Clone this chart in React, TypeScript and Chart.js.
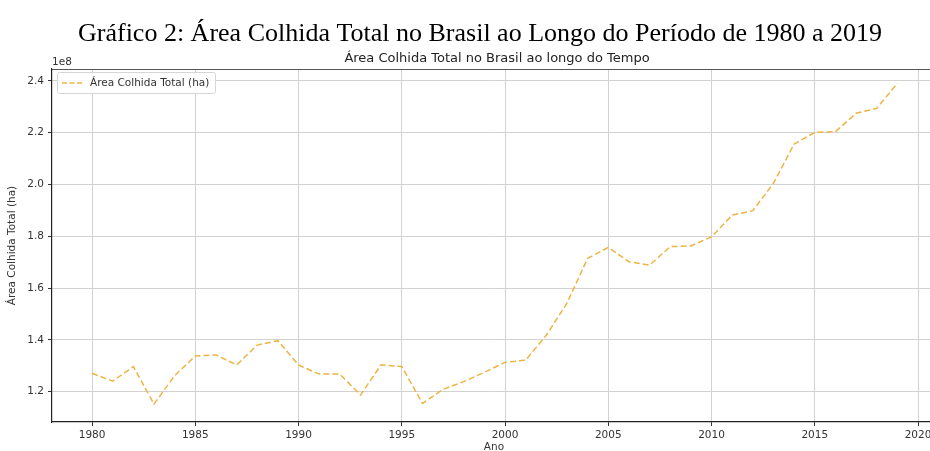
import React, { useEffect, useRef } from "react";
import { Chart, registerables } from "chart.js";

Chart.register(...registerables);

const years = [
  1980, 1981, 1982, 1983, 1984, 1985, 1986, 1987, 1988, 1989,
  1990, 1991, 1992, 1993, 1994, 1995, 1996, 1997, 1998, 1999,
  2000, 2001, 2002, 2003, 2004, 2005, 2006, 2007, 2008, 2009,
  2010, 2011, 2012, 2013, 2014, 2015, 2016, 2017, 2018, 2019,
];

const areaHa = [
  127100000, 124100000, 129700000, 115200000, 126200000, 133800000, 134200000, 130300000, 138000000, 139700000,
  130300000, 126800000, 126800000, 118700000, 130400000, 129700000, 115500000, 120900000, 123900000, 127500000,
  131300000, 132200000, 141800000, 154200000, 171500000, 175700000, 170200000, 168900000, 176000000, 176300000,
  179800000, 188200000, 189900000, 200500000, 215600000, 220100000, 220400000, 227500000, 229400000, 239100000,
];

const xTicks = [1980, 1985, 1990, 1995, 2000, 2005, 2010, 2015, 2020];
const yTicks = [120000000, 140000000, 160000000, 180000000, 200000000, 220000000, 240000000];

const heading = "Gráfico 2: Área Colhida Total no Brasil ao Longo do Período de 1980 a 2019";
const chartTitle = "Área Colhida Total no Brasil ao longo do Tempo";
const seriesLabel = "Área Colhida Total (ha)";
const xLabel = "Ano";
const yLabel = "Área Colhida Total (ha)";
const yExponent = "1e8";

const LINE_COLOR = "#EDB443";
const SANS = '"DejaVu Sans", sans-serif';

const decorPlugin = {
  id: "decor",
  afterDraw(chart: any) {
    const ctx = chart.ctx as CanvasRenderingContext2D;
    const area = chart.chartArea;
    ctx.save();

    // top spine
    ctx.strokeStyle = "#555";
    ctx.lineWidth = 1.2;
    ctx.beginPath();
    ctx.moveTo(area.left, area.top + 0.5);
    ctx.lineTo(area.right, area.top + 0.5);
    ctx.stroke();

    // heading (document caption)
    ctx.fillStyle = "#000";
    ctx.font = '26px "Liberation Serif", "Times New Roman", serif';
    ctx.textAlign = "center";
    ctx.textBaseline = "alphabetic";
    ctx.fillText(heading, 480, 41);

    // chart title
    ctx.fillStyle = "#222";
    ctx.font = "13px " + SANS;
    ctx.textBaseline = "alphabetic";
    ctx.fillText(chartTitle, 497, 62);

    // exponent
    ctx.font = "10.5px " + SANS;
    ctx.textAlign = "left";
    ctx.fillStyle = "#333";
    ctx.fillText(yExponent, 52, 65);

    // x label
    ctx.textAlign = "center";
    ctx.textBaseline = "top";
    ctx.fillText(xLabel, 494, 442);

    // y label
    ctx.save();
    ctx.translate(12, (area.top + area.bottom) / 2);
    ctx.rotate(-Math.PI / 2);
    ctx.textAlign = "center";
    ctx.textBaseline = "middle";
    ctx.fillText(yLabel, 0, 0);
    ctx.restore();

    // legend
    const lx = 57, ly = 72, lw = 158, lh = 21;
    ctx.fillStyle = "rgba(255,255,255,0.85)";
    ctx.strokeStyle = "#d6d6d6";
    ctx.lineWidth = 1;
    ctx.beginPath();
    (ctx as any).roundRect(lx + 0.5, ly + 0.5, lw, lh, 2);
    ctx.fill();
    ctx.stroke();
    ctx.strokeStyle = LINE_COLOR;
    ctx.lineWidth = 1.5;
    ctx.setLineDash([5, 2.5]);
    ctx.beginPath();
    ctx.moveTo(62, ly + lh / 2 + 0.5);
    ctx.lineTo(83, ly + lh / 2 + 0.5);
    ctx.stroke();
    ctx.setLineDash([]);
    ctx.fillStyle = "#333";
    ctx.font = "10.5px " + SANS;
    ctx.textAlign = "left";
    ctx.textBaseline = "middle";
    ctx.fillText(seriesLabel, 90, ly + lh / 2 + 1);

    ctx.restore();
  },
};

export default function App() {
  const ref = useRef<HTMLCanvasElement | null>(null);

  useEffect(() => {
    if (!ref.current) return;
    const points = years.map((y, i) => ({ x: y, y: areaHa[i] }));
    const chart = new Chart(ref.current, {
      type: "line",
      data: {
        datasets: [
          {
            label: seriesLabel,
            data: points,
            borderColor: LINE_COLOR,
            backgroundColor: LINE_COLOR,
            borderWidth: 1.5,
            borderDash: [6, 3],
            pointRadius: 0,
            tension: 0,
            fill: false,
          },
        ],
      },
      options: {
        animation: false,
        responsive: false,
        maintainAspectRatio: false,
        devicePixelRatio: 1,
        layout: { padding: { top: 69, left: 0, right: 0, bottom: 0 } },
        plugins: {
          legend: { display: false },
          title: { display: false },
          tooltip: { enabled: false },
        },
        scales: {
          x: {
            type: "linear",
            min: 1978.06,
            max: 2020.58,
            afterBuildTicks: (scale: any) => {
              scale.ticks = xTicks.map((v) => ({ value: v }));
            },
            afterFit: (scale: any) => {
              scale.height = 29;
              scale.paddingLeft = 0;
              scale.paddingRight = 0;
            },
            grid: {
              color: "#d2d2d2",
              lineWidth: 1,
              drawTicks: true,
              tickLength: 4,
              tickColor: "#333",
            },
            border: { display: true, color: "#222", width: 1.2 },
            ticks: {
              color: "#333",
              font: { family: SANS, size: 10.5 },
              padding: 3,
              maxRotation: 0,
              autoSkip: false,
              callback: (v: any) => String(v),
            },
          },
          y: {
            type: "linear",
            min: 108300000,
            max: 244600000,
            afterBuildTicks: (scale: any) => {
              scale.ticks = yTicks.map((v) => ({ value: v }));
            },
            afterFit: (scale: any) => {
              scale.width = 52;
              scale.paddingTop = 0;
              scale.paddingBottom = 0;
            },
            grid: {
              color: "#d2d2d2",
              lineWidth: 1,
              drawTicks: true,
              tickLength: 4,
              tickColor: "#333",
            },
            border: { display: true, color: "#222", width: 1.2 },
            ticks: {
              color: "#333",
              font: { family: SANS, size: 10.5 },
              padding: 4,
              autoSkip: false,
              callback: (v: any) => (Number(v) / 1e8).toFixed(1),
            },
          },
        },
      },
      plugins: [decorPlugin],
    });
    return () => chart.destroy();
  }, []);

  return (
    <div style={{ position: "fixed", left: 0, top: 0, width: 930, height: 451, background: "#fff" }}>
      <canvas ref={ref} width={930} height={451} style={{ width: 930, height: 451, display: "block" }} />
    </div>
  );
}
